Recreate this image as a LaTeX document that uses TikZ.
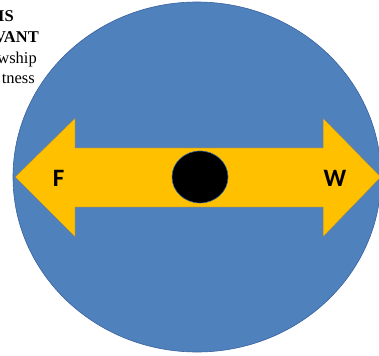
\documentclass[tikz,border=0pt]{standalone}
\usepackage{fontspec}
\setmainfont{Liberation Serif}
\newfontfamily\arrowfont{Carlito}
\usetikzlibrary{
    positioning, % posicionamento relativo
    shapes.geometric % elipses
}

\begin{document}
\begin{tikzpicture}[x=1pt, y=-1pt]

    % --- Estilos ---
    \tikzset{
        globe/.style={ellipse, fill=globeblue, draw=globeedge, line width=0.6pt,
                      minimum width=368pt, minimum height=350pt, inner sep=0pt},
        shaft/.style={fill=arrowgold, draw=arrowedge, line width=0.5pt, line join=miter},
        hub/.style={ellipse, fill=black, draw=globeedge, line width=0.6pt,
                    minimum width=56pt, minimum height=52pt, inner sep=0pt},
        tip_label/.style={inner sep=0pt, font=\arrowfont\bfseries\fontsize{25}{25}\selectfont},
        side_text/.style={anchor=base east, inner sep=0pt, font=\fontsize{16.5}{16.5}\selectfont}
    }
    \definecolor{globeblue}{HTML}{4F81BD}
    \definecolor{globeedge}{HTML}{3A62A0}
    \definecolor{arrowgold}{HTML}{FFC000}
    \definecolor{arrowedge}{HTML}{7A7F78}

    \useasboundingbox (0,0) rectangle (379,355);
    \clip (0,0) rectangle (379,355);

    % --- Texto cortado ---
    \node[side_text] (is) at (14,22) {\bfseries IS};
    \node[side_text] (vant) at (39,43) {\bfseries VANT};
    \node[side_text] (wship) at (37,64) {wship};
    \node[side_text] (tness) at (35,84) {tness};

    % --- Círculo azul ---
    \node[globe] (globe) at (197,177) {};

    % --- Seta dupla ---
    \draw[shaft] (15,177) -- (75,118) -- (75,148) -- (323,148) -- (323,118)
        -- (381,177) -- (323,237) -- (323,207) -- (75,207) -- (75,237) -- cycle;

    % --- Centro ---
    \node[hub] (hub) at (200,177) {};

    % --- Letras ---
    \node[tip_label] (f) at (58.5,178) {F};
    \node[tip_label] (w) at (335,178) {W};

\end{tikzpicture}
\end{document}
